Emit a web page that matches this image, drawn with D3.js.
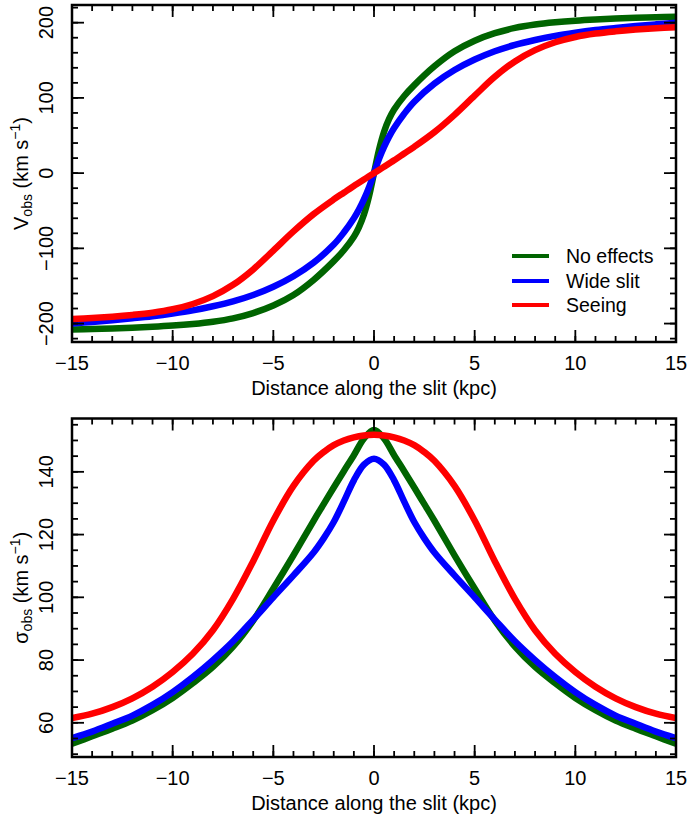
<!DOCTYPE html>
<html><head><meta charset="utf-8">
<script src="https://cdn.jsdelivr.net/npm/d3@7"></script>
<style>
html,body{margin:0;padding:0;background:#fff;}
text{font-family:"Liberation Sans",Arial,Helvetica,sans-serif;fill:#000;}
</style></head>
<body>
<svg id="chart" width="689" height="820"></svg>
<script>
// ---------- data ----------
const seriesNames = ["No effects", "Wide slit", "Seeing"];
const seriesColors = ["#006400", "#0000ff", "#ff0000"];

// top panel: observed velocity (km/s) vs distance along slit (kpc)
const xTop = [-15,-14,-13,-12,-11,-10,-9,-8,-7,-6,-5,-4,-3,-2,-1.5,-1,-0.75,-0.5,-0.25,0,0.25,0.5,0.75,1,1.5,2,3,4,5,6,7,8,9,10,11,12,13,14,15];
const vNoEffects = [-208,-207.3,-206.5,-205.5,-204.3,-202.7,-200.5,-197.5,-193,-186,-176,-162,-142,-117,-102.5,-84.5,-72,-55,-31,0,31,55,72,84.5,102.5,117,142,162,176,186,193,197.5,200.5,202.7,204.3,205.5,206.5,207.3,208];
const vWideSlit  = [-200,-197.8,-195.5,-193,-190.2,-186.7,-182.5,-177,-170.5,-162,-151,-137,-119,-95,-79,-60,-48.5,-35,-19,0,19,35,48.5,60,79,95,119,137,151,162,170.5,177,182.5,186.7,190.2,193,195.5,197.8,200];
const vSeeing    = [-194,-192.6,-190.8,-188.5,-185.5,-181,-174,-163.5,-148.5,-128,-103,-77.5,-54.5,-35,-26,-17,-12.8,-8.5,-4.2,0,4.2,8.5,12.8,17,26,35,54.5,77.5,103,128,148.5,163.5,174,181,185.5,188.5,190.8,192.6,194];

// bottom panel: observed velocity dispersion (km/s)
const xBot = [-15,-14,-13,-12,-11,-10,-9,-8,-7,-6,-5,-4,-3,-2.5,-2,-1.5,-1,-0.5,0,0.5,1,1.5,2,2.5,3,4,5,6,7,8,9,10,11,12,13,14,15];
const sNoEffects = [53.3,55.7,58.1,60.7,64,67.9,72.6,77.8,84.3,92.6,102.8,113.4,124.4,129.7,135,140.2,145.3,150.6,153.3,150.6,145.3,140.2,135,129.7,124.4,113.4,102.8,92.6,84.3,77.8,72.6,67.9,64,60.7,58.1,55.7,53.3];
const sWideSlit  = [55.1,57.2,59.7,62.3,65.7,69.8,74.6,80,86,92.9,100,107,114.3,118.8,124,130.5,137.3,142.3,144.2,142.3,137.3,130.5,124,118.8,114.3,107,100,92.9,86,80,74.6,69.8,65.7,62.3,59.7,57.2,55.1];
const sSeeing    = [61.5,62.9,65,67.8,71.5,76.2,82,89.5,99.5,111.5,124.5,135.5,143.5,146.3,148.5,150,151,151.6,151.8,151.6,151,150,148.5,146.3,143.5,135.5,124.5,111.5,99.5,89.5,82,76.2,71.5,67.8,65,62.9,61.5];

const xTickLabels = ["\u221215","\u221210","\u22125","0","5","10","15"];
const xTickValues = [-15,-10,-5,0,5,10,15];
const vTickValues = [-200,-100,0,100,200];
const vTickLabels = ["\u2212200","\u2212100","0","100","200"];
const sTickValues = [60,80,100,120,140];
const sTickLabels = ["60","80","100","120","140"];

// ---------- layout ----------
const svg = d3.select("#chart");
const L = 72, R = 676;
const FS = 20;

function panel(cfg) {
  const g = svg.append("g");
  const x = d3.scaleLinear().domain([-15, 15]).range([L, R]);
  const y = d3.scaleLinear().domain(cfg.ydomain).range([cfg.bottom, cfg.top]);
  const clipId = "clip" + cfg.id;
  svg.append("clipPath").attr("id", clipId).append("rect")
    .attr("x", L).attr("y", cfg.top).attr("width", R - L).attr("height", cfg.bottom - cfg.top);

  const line = d3.line().x(d => x(d[0])).y(d => y(d[1])).curve(d3.curveCatmullRom.alpha(0.5));
  const lg = g.append("g").attr("clip-path", `url(#${clipId})`);
  cfg.series.forEach((vals, i) => {
    lg.append("path").datum(cfg.xs.map((xv, k) => [xv, vals[k]]))
      .attr("d", line).attr("fill", "none")
      .attr("stroke", seriesColors[i]).attr("stroke-width", 6.5)
      .attr("stroke-linejoin", "round").attr("stroke-linecap", "butt");
  });

  // ticks on all four sides (inward)
  const tickG = g.append("g").attr("stroke", "#000").attr("stroke-width", 1.8);
  const xMinor = d3.range(-15, 15.01, 1);
  const xMajor = d3.range(-15, 15.01, 5);
  const yMinor = d3.range(cfg.minorStart, cfg.ydomain[1] + 0.01, cfg.minorStep).filter(v => v >= cfg.ydomain[0]);
  [[cfg.bottom, -1], [cfg.top, 1]].forEach(([yy, dir]) => {
    xMinor.forEach(v => tickG.append("line").attr("x1", x(v)).attr("x2", x(v)).attr("y1", yy).attr("y2", yy + dir * 6));
    xMajor.forEach(v => tickG.append("line").attr("x1", x(v)).attr("x2", x(v)).attr("y1", yy).attr("y2", yy + dir * 12));
  });
  [[L, 1], [R, -1]].forEach(([xx, dir]) => {
    yMinor.forEach(v => tickG.append("line").attr("y1", y(v)).attr("y2", y(v)).attr("x1", xx).attr("x2", xx + dir * 6));
    cfg.yticks.forEach(v => tickG.append("line").attr("y1", y(v)).attr("y2", y(v)).attr("x1", xx).attr("x2", xx + dir * 12));
  });

  g.append("rect").attr("x", L).attr("y", cfg.top).attr("width", R - L).attr("height", cfg.bottom - cfg.top)
    .attr("fill", "none").attr("stroke", "#000").attr("stroke-width", 2.5);

  // x tick labels
  xTickValues.forEach((v, i) => {
    g.append("text").attr("x", x(v)).attr("y", cfg.bottom + 28).attr("text-anchor", "middle")
      .attr("font-size", FS).text(xTickLabels[i]);
  });
  g.append("text").attr("x", (L + R) / 2).attr("y", cfg.bottom + 53).attr("text-anchor", "middle")
    .attr("font-size", FS).text("Distance along the slit (kpc)");

  // y tick labels (rotated)
  cfg.yticks.forEach((v, i) => {
    g.append("text").attr("transform", `translate(53,${y(v)}) rotate(-90)`).attr("text-anchor", "middle")
      .attr("font-size", FS).text(cfg.ylabels[i]);
  });

  // y title
  const t = g.append("text").attr("transform", `translate(28,${(cfg.top + cfg.bottom) / 2}) rotate(-90)`)
    .attr("text-anchor", "middle").attr("font-size", FS);
  t.append("tspan").text(cfg.ysym);
  t.append("tspan").attr("font-size", 14).attr("dy", 4).text("obs");
  t.append("tspan").attr("dy", -4).text(" (km s");
  t.append("tspan").attr("font-size", 14).attr("dy", -8).text("\u22121");
  t.append("tspan").attr("dy", 8).text(")");
  return {g, x, y};
}

const topPanel = panel({
  id: 1, top: 5, bottom: 342, ydomain: [-224.5, 223.5],
  yticks: vTickValues, ylabels: vTickLabels, minorStart: -220, minorStep: 20,
  xs: xTop, series: [vNoEffects, vWideSlit, vSeeing], ysym: "V"
});

const bottomPanel = panel({
  id: 2, top: 418.5, bottom: 757, ydomain: [49.1, 157],
  yticks: sTickValues, ylabels: sTickLabels, minorStart: 50, minorStep: 5,
  xs: xBot, series: [sNoEffects, sWideSlit, sSeeing], ysym: "\u03c3"
});

// legend (top panel)
const leg = svg.append("g");
const legY = [256, 281, 305];
seriesNames.forEach((name, i) => {
  leg.append("line").attr("x1", 512).attr("x2", 549).attr("y1", legY[i]).attr("y2", legY[i])
    .attr("stroke", seriesColors[i]).attr("stroke-width", 4);
  leg.append("text").attr("x", 566).attr("y", legY[i] + 7).attr("font-size", 19.5).text(name);
});
</script>
</body></html>
